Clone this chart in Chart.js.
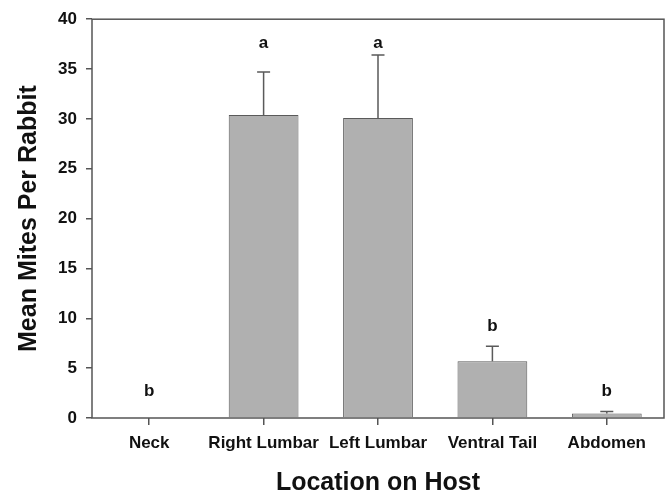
<!DOCTYPE html>
<html>
<head>
<meta charset="utf-8">
<script src="https://cdn.jsdelivr.net/npm/chart.js@4"></script>
<style>
  html, body { margin: 0; padding: 0; background: #ffffff; }
  #wrap { width: 666px; height: 493px; }
</style>
</head>
<body>
<div id="wrap"><canvas id="c" width="666" height="493"></canvas></div>
<script>
// ---- Data ----
const categories = ['Neck', 'Right Lumbar', 'Left Lumbar', 'Ventral Tail', 'Abdomen'];
const meanMites = [0, 30.4, 30.1, 5.7, 0.45];
const stdErr = [0, 4.3, 6.3, 1.5, 0.2];
const groupLetters = ['b', 'a', 'a', 'b', 'b'];
const letterLevel = [2.2, 37.1, 37.1, 8.7, 2.2];   // value (y units) where each letter sits
const yTicks = [0, 5, 10, 15, 20, 25, 30, 35, 40];

const FONT = '"Liberation Sans", Arial, Helvetica, sans-serif';
const AXIS = '#555555';

const extrasPlugin = {
  id: 'extras',
  afterDatasetsDraw(chart) {
    const ctx = chart.ctx;
    const xs = chart.scales.x, ys = chart.scales.y;
    ctx.save();
    // error bars (upper only)
    ctx.strokeStyle = '#5a5a5a';
    ctx.lineWidth = 1.5;
    meanMites.forEach((m, i) => {
      const se = stdErr[i];
      if (!se) return;
      const x = xs.getPixelForValue(i);
      const yb = ys.getPixelForValue(m);
      const yt = ys.getPixelForValue(m + se);
      ctx.beginPath();
      ctx.moveTo(x, yb);
      ctx.lineTo(x, yt);
      ctx.moveTo(x - 6.5, yt);
      ctx.lineTo(x + 6.5, yt);
      ctx.stroke();
    });
    // group letters
    ctx.fillStyle = '#111111';
    ctx.font = 'bold 17px ' + FONT;
    ctx.textAlign = 'center';
    ctx.textBaseline = 'alphabetic';
    groupLetters.forEach((t, i) => {
      ctx.fillText(t, xs.getPixelForValue(i), ys.getPixelForValue(letterLevel[i]));
    });
    // frame
    const a = chart.chartArea;
    ctx.strokeStyle = AXIS;
    ctx.lineWidth = 1.5;
    ctx.strokeRect(a.left, a.top, a.right - a.left, a.bottom - a.top);
    ctx.restore();
  }
};

new Chart(document.getElementById('c'), {
  type: 'bar',
  data: {
    labels: categories,
    datasets: [{
      data: meanMites,
      backgroundColor: '#b0b0b0',
      borderColor: '#5a5a5a',
      borderWidth: 1,
      barPercentage: 0.61,
      categoryPercentage: 1.0
    }]
  },
  options: {
    responsive: false,
    animation: false,
    devicePixelRatio: 1,
    layout: { padding: { top: 18, right: 2, left: 0, bottom: 0 } },
    plugins: { legend: { display: false }, tooltip: { enabled: false } },
    scales: {
      x: {
        grid: { display: true, offset: false, drawOnChartArea: false, drawTicks: true, tickLength: 7, color: AXIS, lineWidth: 1.5 },
        border: { display: false },
        ticks: { color: '#111111', font: { family: FONT, size: 17, weight: 'bold' }, padding: 8, maxRotation: 0, autoSkip: false },
        title: { display: true, text: 'Location on Host', color: '#111111',
                 font: { family: FONT, size: 25, weight: 'bold', lineHeight: 1.0 }, padding: { top: 0, bottom: -3 } },
        afterFit(scale) { scale.height = 75; }
      },
      y: {
        min: 0, max: 40,
        afterBuildTicks(scale) { scale.ticks = yTicks.map(v => ({ value: v })); },
        grid: { display: true, drawOnChartArea: false, drawTicks: true, tickLength: 6, color: AXIS, lineWidth: 1.5 },
        border: { display: false },
        ticks: { color: '#111111', font: { family: FONT, size: 17, weight: 'bold' }, padding: 9 },
        title: { display: true, text: 'Mean Mites Per Rabbit', color: '#111111',
                 font: { family: FONT, size: 25, weight: 'bold', lineHeight: 1.2 }, padding: { top: 14, bottom: 0 } },
        afterFit(scale) { scale.width = 92; }
      }
    }
  },
  plugins: [extrasPlugin]
});
</script>
</body>
</html>
